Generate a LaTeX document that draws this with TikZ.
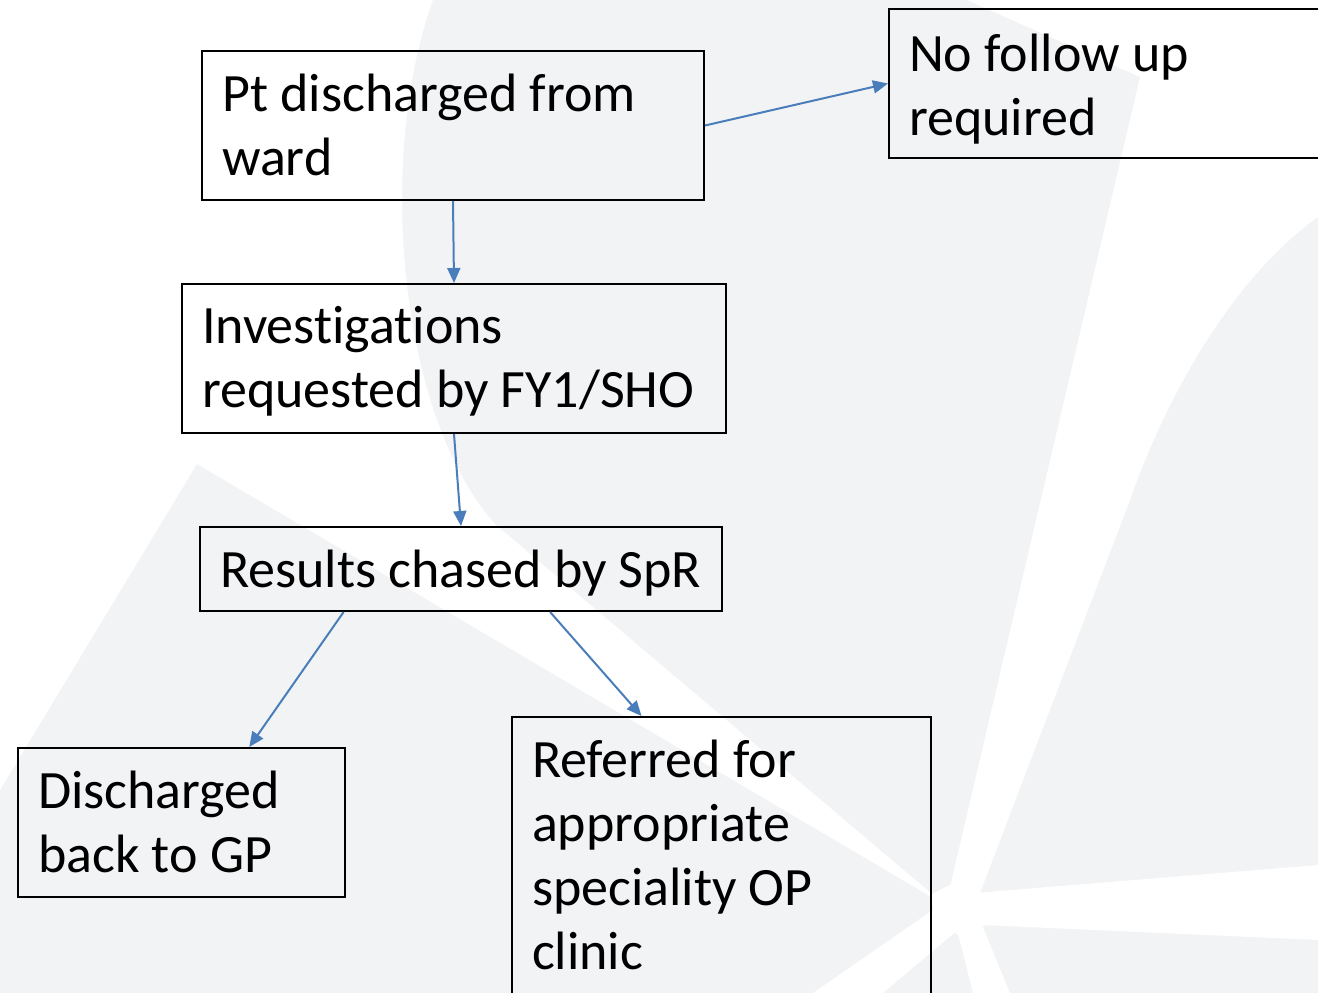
\documentclass[tikz,border=0pt]{standalone}
\usepackage{fontspec}
\setmainfont{Carlito}[Ligatures=NoCommon, RawFeature={-liga}]
\usetikzlibrary{arrows.meta,calc}
\definecolor{bggray}{HTML}{F2F3F5}
\definecolor{arrowblue}{HTML}{4A7EBB}
\newcommand\flowsp{\spaceskip=12.2pt\relax\xspaceskip=12.2pt\relax}
\begin{document}
\begin{tikzpicture}[x=1pt,y=-1pt,
  box/.style={draw=black, line width=2pt, align=flush left, anchor=north west,
    inner xsep=20pt, inner ysep=0pt, font=\fontsize{54}{64.3}\selectfont},
  arr/.style={draw=arrowblue, line width=2pt, -{Triangle[length=15pt,width=13pt]}},
  wash/.style={fill=white}]
\useasboundingbox (0,0) rectangle (1318,993);
\clip (0,0) rectangle (1318,993);
% background watermark
\fill[bggray] (0,0) rectangle (1318,993);
\fill[wash] (0,0) -- (433,0) .. controls (375,160) and (400,420) .. (496,525)
  -- (945,905) -- (197,464) -- (0,790) -- cycle;
\fill[wash] (967,0) -- (1318,0) -- (1318,217) .. controls (1230,280) and (1165,400) .. (1130,500)
  -- (980,893) -- (950,887) -- (1140,77) -- cycle;
\fill[wash] (975,893) -- (1318,865) -- (1318,940) -- (982,925) -- cycle;
\fill[wash] (957,930) -- (973,993) -- (1010,993) -- (982,925) -- cycle;
\fill[wash] (940,905) -- (813,993) -- (883,993) -- (960,928) -- cycle;
\fill[wash] (930,895) -- (950,885) -- (980,891) -- (985,926) -- (958,935) -- (935,915) -- cycle;
% boxes
\node[box, text width=462pt, text height=60pt, text depth=89pt] (A) at (201,50)
  {\flowsp\mbox{Pt discharged from}\\ward};
\node[box, text width=412pt, text height=62pt, text depth=87pt] (B) at (888,8)
  {\flowsp\mbox{No follow up}\\required};
\node[box, text width=504pt, text height=59pt, text depth=90pt] (C) at (181,283)
  {\flowsp Investigations\\\mbox{requested by FY1/SHO}};
\node[box, text width=482pt, text height=60pt, text depth=24pt] (D) at (199,526)
  {\flowsp\mbox{Results chased by SpR}};
\node[box, text width=287pt, text height=60pt, text depth=89pt] (E) at (17,747)
  {\flowsp Discharged\\\mbox{back to GP}};
\node[box, text width=379pt, text height=60pt, text depth=234pt] (F) at (511,716)
  {\flowsp\mbox{Referred for}\\appropriate\\\mbox{speciality OP}\\clinic};
% connectors
\draw[arr] (A.east) -- (B.west);
\draw[arr] (A.south) -- (C.north);
\draw[arr] (C.south) -- (D.north);
\draw[arr] ($(D.south west)!0.276!(D.south east)$) -- ($(E.north west)!0.706!(E.north east)$);
\draw[arr] ($(D.south west)!0.670!(D.south east)$) -- ($(F.north west)!0.31!(F.north east)$);
\end{tikzpicture}
\end{document}
